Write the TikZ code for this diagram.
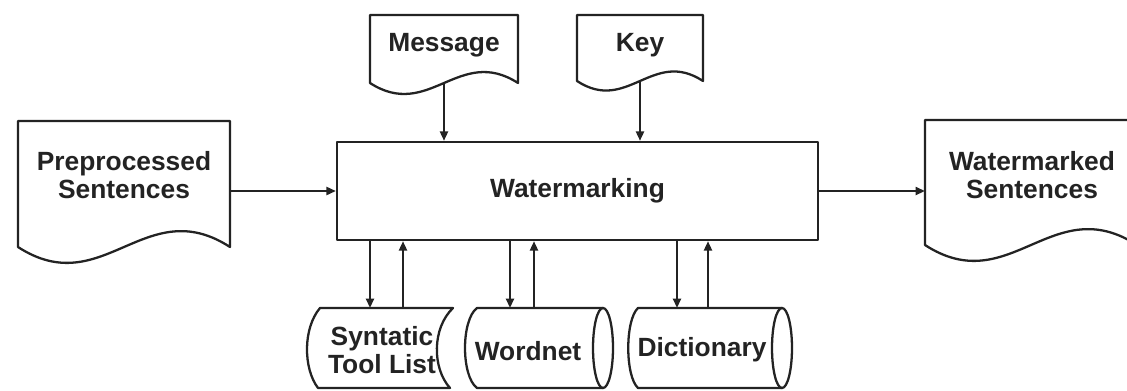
\documentclass[tikz,border=0pt]{standalone}
\usepackage{fontspec}
\setmainfont{Liberation Sans}
\usepackage{tikz}
\usetikzlibrary{arrows.meta,positioning,calc}
\definecolor{ink}{RGB}{35,35,35}

\tikzset{
  line/.style={draw=ink,line width=1.3pt,line join=round},
  arr/.style={line,-{Triangle[length=1.9mm,width=1.6mm]}},
  lbl/.style={font=\fontsize{15}{16}\selectfont\bfseries,text=ink,align=center,inner sep=0pt},
  box/.style={line,lbl,minimum width=9.62cm,minimum height=1.96cm}
}

\begin{document}
\begin{tikzpicture}[x=0.02cm,y=-0.02cm]
\clip (0,0) rectangle (1127,390);

% main block
\node[box] (wm) at (577.5,191) {Watermarking};

% documents
\draw[line] (18,247) -- (18,121) -- (230,121) -- (230,247) .. controls (145.2,192) and (102.8,302) .. cycle;
\node[lbl] (pre) at (124,175) {Preprocessed\\Sentences};
\coordinate (preout) at (230,191);

\draw[line] (370,83) -- (370,15) -- (518,15) -- (518,83) .. controls (459,45) and (429,121) .. cycle;
\node[lbl] (msg) at (444,45) {Message};
\coordinate (msgout) at (444,83);

\draw[line] (577,81) -- (577,15) -- (703,15) -- (703,81) .. controls (652.6,48) and (627.4,114) .. cycle;
\node[lbl] (key) at (640,45) {Key};
\coordinate (keyout) at (640,81);

\draw[line] (925,245) -- (925,120) -- (1137,120) -- (1137,245) .. controls (1052.2,190) and (1009.8,300) .. cycle;
\node[lbl] (out) at (1032,175) {Watermarked\\Sentences};
\coordinate (outin) at (925,191);

% stores
\draw[line] (320,308) -- (453,308) .. controls (432,328) and (432,368) .. (450,388) -- (318,388) .. controls (303,368) and (303,328) .. cycle;
\node[lbl] (stl) at (382,350) {Syntatic\\Tool List};

\draw[line] (603,308) -- (477,308) .. controls (461,320) and (461,376) .. (477,388) -- (603,388);
\draw[line] (603,348) ellipse [x radius=10,y radius=40];
\node[lbl] (wnet) at (528,351) {Wordnet};

\draw[line] (782,308) -- (638,308) .. controls (625,320) and (625,376) .. (638,388) -- (782,388);
\draw[line] (782,348) ellipse [x radius=10,y radius=40];
\node[lbl] (dict) at (702,350) {Dictionary};

\coordinate (stlin) at (370,308);
\coordinate (stlout) at (403,308);
\coordinate (wnetin) at (510,308);
\coordinate (wnetout) at (534,308);
\coordinate (dictin) at (677,308);
\coordinate (dictout) at (708,308);

% connectors
\draw[arr] (preout) -- (wm.west);
\draw[arr] (wm.east) -- (outin);
\draw[arr] (msgout) -- (msgout |- wm.north);
\draw[arr] (keyout) -- (keyout |- wm.north);
\draw[arr] (stlin |- wm.south) -- (stlin);
\draw[arr] (stlout) -- (stlout |- wm.south);
\draw[arr] (wnetin |- wm.south) -- (wnetin);
\draw[arr] (wnetout) -- (wnetout |- wm.south);
\draw[arr] (dictin |- wm.south) -- (dictin);
\draw[arr] (dictout) -- (dictout |- wm.south);
\end{tikzpicture}
\end{document}
